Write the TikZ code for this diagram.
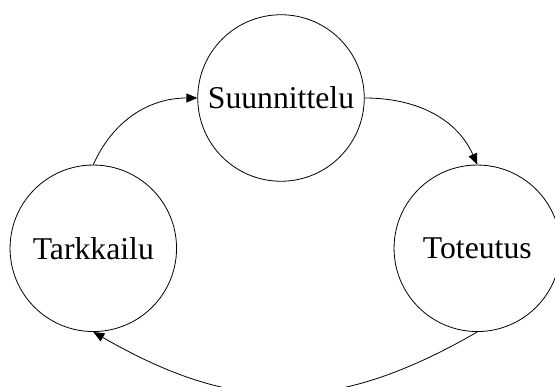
\documentclass[tikz,border=0pt]{standalone}
\usepackage{fontspec}
\setmainfont{Liberation Serif}
\usetikzlibrary{arrows.meta}
\begin{document}
\begin{tikzpicture}[x=1pt,y=-1pt,
  phase/.style={draw=black, line width=0.8pt, circle, minimum size=166.5pt, inner sep=0pt,
    font=\fontsize{31.7}{38}\selectfont},
  flow/.style={draw=black, line width=0.8pt, -{Triangle[length=11pt,width=9pt]}}]
\clip (0,0) rectangle (555,387);
\node[phase] (s) at (281,98) {Suunnittelu};
\node[phase] (t) at (93.3,248.3) {Tarkkailu};
\node[phase] (o) at (477.3,248.3) {Toteutus};
\draw[flow] (t.north) to[out=66,in=180] (s.west);
\draw[flow] (s.east) to[out=0,in=114] (o.north);
\draw[flow] (o.south) to[out=210,in=-30,looseness=1.1] (t.south);
\end{tikzpicture}
\end{document}
